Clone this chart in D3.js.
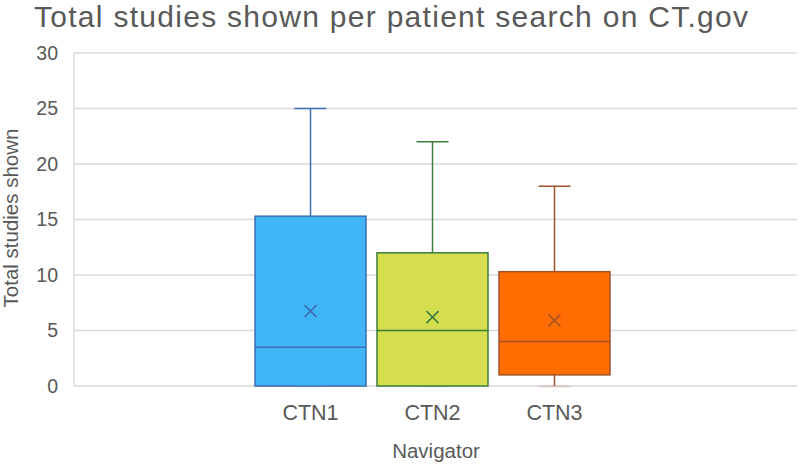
<!DOCTYPE html>
<html>
<head>
<meta charset="utf-8">
<script src="https://cdn.jsdelivr.net/npm/d3@7"></script>
<style>
  body { margin: 0; background: #fff; }
  svg { display: block; font-family: "Liberation Sans", Arial, sans-serif; }
</style>
</head>
<body>
<svg id="chart" width="800" height="464"></svg>
<script>
// box plot data
const navigators = ['CTN1', 'CTN2', 'CTN3'];
const mins = [0, 0, 0];
const q1s = [0, 0, 1];
const medians = [3.5, 5, 4];
const q3s = [15.3, 12, 10.3];
const maxs = [25, 22, 18];
const means = [6.75, 6.2, 5.9];
const yTicks = [0, 5, 10, 15, 20, 25, 30];

const fills = ['#41b6f6', '#d4de4f', '#ff6d00'];
const strokes = ['#3c6eb4', '#3e7d3e', '#a0522d'];

const svg = d3.select('#chart');
const margin = {top: 53, right: 3, bottom: 78, left: 74};
const width = 800 - margin.left - margin.right;
const height = 464 - margin.top - margin.bottom;

const g = svg.append('g').attr('transform', `translate(${margin.left},${margin.top})`);

const y = d3.scaleLinear().domain([0, 30]).range([height, 0]);
// boxes sit side by side in the middle of the plot
const x = d3.scaleBand().domain(navigators).range([181, 536]).paddingInner(0.09).paddingOuter(0);

// gridlines
g.selectAll('.grid')
    .data(yTicks)
    .enter().append('line')
    .attr('x1', 0).attr('x2', width)
    .attr('y1', d => y(d)).attr('y2', d => y(d))
    .attr('stroke', '#d9d9d9').attr('stroke-width', 1.3);

g.append('line')
    .attr('x1', 0).attr('x2', 0)
    .attr('y1', 0).attr('y2', height)
    .attr('stroke', '#d9d9d9').attr('stroke-width', 1.3);

// y axis labels
const yAxis = g.append('g')
    .call(d3.axisLeft(y).tickValues(yTicks).tickSize(0).tickPadding(16));
yAxis.select('.domain').remove();
yAxis.selectAll('text')
    .attr('font-size', 19.5).attr('fill', '#595959')
    .attr('font-family', '"Liberation Sans", Arial, sans-serif');

const data = navigators.map((name, i) => ({
    name, min: mins[i], q1: q1s[i], median: medians[i], q3: q3s[i], max: maxs[i], mean: means[i],
    fill: fills[i], stroke: strokes[i]
}));

const boxes = g.selectAll('.box')
    .data(data)
    .enter().append('g')
    .attr('class', 'box');

const cx = d => x(d.name) + x.bandwidth() / 2;
const capW = 16;

// upper whisker
boxes.append('line')
    .attr('x1', cx).attr('x2', cx)
    .attr('y1', d => y(d.q3)).attr('y2', d => y(d.max))
    .attr('stroke', d => d.stroke).attr('stroke-width', 1.5);
boxes.append('line')
    .attr('x1', d => cx(d) - capW).attr('x2', d => cx(d) + capW)
    .attr('y1', d => y(d.max)).attr('y2', d => y(d.max))
    .attr('stroke', d => d.stroke).attr('stroke-width', 1.5);

// lower whisker
boxes.append('line')
    .attr('x1', cx).attr('x2', cx)
    .attr('y1', d => y(d.q1)).attr('y2', d => y(d.min))
    .attr('stroke', d => d.stroke).attr('stroke-width', 1.5);
boxes.append('line')
    .attr('x1', d => cx(d) - capW).attr('x2', d => cx(d) + capW)
    .attr('y1', d => y(d.min) + 0.5).attr('y2', d => y(d.min) + 0.5)
    .attr('stroke', d => d.stroke).attr('stroke-opacity', 0.25).attr('stroke-width', 1.5);

// box
boxes.append('rect')
    .attr('x', d => x(d.name))
    .attr('width', x.bandwidth())
    .attr('y', d => y(d.q3))
    .attr('height', d => y(d.q1) - y(d.q3))
    .attr('fill', d => d.fill)
    .attr('stroke', d => d.stroke).attr('stroke-width', 1.5);

// median
boxes.append('line')
    .attr('x1', d => x(d.name)).attr('x2', d => x(d.name) + x.bandwidth())
    .attr('y1', d => y(d.median)).attr('y2', d => y(d.median))
    .attr('stroke', d => d.stroke).attr('stroke-width', 1.5);

// mean marker
const m = 6;
boxes.append('path')
    .attr('d', d => {
        const px = cx(d), py = y(d.mean);
        return `M${px - m},${py - m}L${px + m},${py + m}M${px - m},${py + m}L${px + m},${py - m}`;
    })
    .attr('stroke', d => d.stroke).attr('stroke-width', 1.6).attr('fill', 'none');

// category labels
g.selectAll('.cat')
    .data(data)
    .enter().append('text')
    .attr('x', cx)
    .attr('y', height + 34)
    .attr('text-anchor', 'middle')
    .attr('font-size', 21.5).attr('fill', '#595959')
    .text(d => d.name);

// axis titles
svg.append('text')
    .attr('x', 436).attr('y', 458)
    .attr('text-anchor', 'middle')
    .attr('font-size', 20.5).attr('fill', '#595959')
    .text('Navigator');

svg.append('text')
    .attr('transform', `translate(18,218) rotate(-90)`)
    .attr('text-anchor', 'middle')
    .attr('font-size', 20.5).attr('fill', '#595959')
    .text('Total studies shown');

// title
svg.append('text')
    .attr('x', 34).attr('y', 27)
    .attr('font-size', 30).attr('fill', '#595959')
    .attr('textLength', 714).attr('lengthAdjust', 'spacing')
    .text('Total studies shown per patient search on CT.gov');
</script>
</body>
</html>
